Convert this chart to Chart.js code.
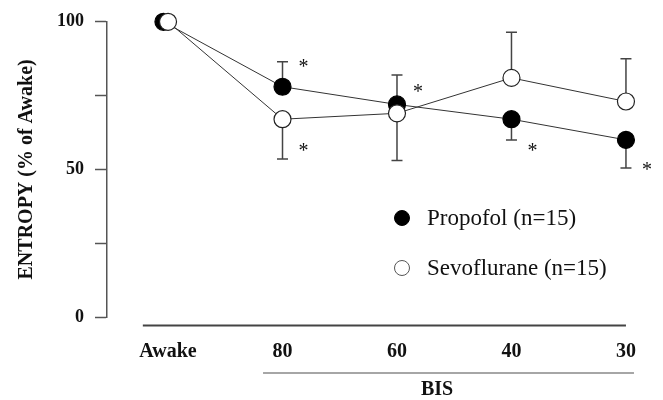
<!DOCTYPE html>
<html>
<head>
<meta charset="utf-8">
<script src="https://cdn.jsdelivr.net/npm/chart.js@4/dist/chart.umd.min.js"></script>
<style>
  html, body { margin: 0; padding: 0; background: #fff; }
  #wrap { width: 663px; height: 400px; position: relative; }
</style>
</head>
<body>
<div id="wrap"><canvas id="myChart"></canvas></div>
<script>
// categories along the x axis (BIS levels)
const categories = ['Awake', '80', '60', '40', '30'];

// mean entropy, % of awake
const propofol = [100, 78, 72, 67, 60];
const sevoflurane = [100, 67, 69, 81, 73];

// end of the one-sided SD bars (null = no bar)
const propofolBarEnd = [null, 86.5, 82, 60, 50.5];
const sevoBarEnd = [null, 53.5, 53, 96.5, 87.5];

// y ticks, only some labelled
const yTicks = [0, 25, 50, 75, 100];
const yTickLabels = ['0', '', '50', '', '100'];

// significance stars: category index and height
const starCat = [1, 1, 2, 3, 4];
const starVal = [86.5, 58, 78, 58, 51.5];

const legendLabels = ['Propofol (n=15)', 'Sevoflurane (n=15)'];
const axisTitleX = 'BIS';
const axisTitleY = 'ENTROPY (% of Awake)';

const SERIF = "'Liberation Serif', 'Times New Roman', serif";
Chart.defaults.font.family = SERIF;
Chart.defaults.color = '#111';

const AWAKE_DODGE = -0.04; // filled marker sits a bit left of the open one at Awake

function toPoints(vals, dodge) {
    return vals.map((v, i) => ({ x: i === 0 ? i + dodge : i, y: v }));
}

// extra drawing: error bars, stars, bottom rules, BIS title, legend
const extras = {
    id: 'extras',
    beforeDatasetsDraw(chart) {
        const ctx = chart.ctx;
        const xs = chart.scales.x, ys = chart.scales.y;
        ctx.save();
        ctx.strokeStyle = '#444';
        ctx.lineWidth = 1.5;
        const bars = [[propofol, propofolBarEnd], [sevoflurane, sevoBarEnd]];
        bars.forEach(([vals, ends]) => {
            ends.forEach((e, i) => {
                if (e === null) return;
                const x = xs.getPixelForValue(i);
                const y0 = ys.getPixelForValue(vals[i]);
                const y1 = ys.getPixelForValue(e);
                ctx.beginPath();
                ctx.moveTo(x, y0);
                ctx.lineTo(x, y1);
                ctx.moveTo(x - 5.5, y1);
                ctx.lineTo(x + 5.5, y1);
                ctx.stroke();
            });
        });
        ctx.restore();
    },
    afterDatasetsDraw(chart) {
        const ctx = chart.ctx;
        const xs = chart.scales.x, ys = chart.scales.y;
        const area = chart.chartArea;
        ctx.save();

        // stars
        ctx.fillStyle = '#111';
        ctx.font = '20px ' + SERIF;
        ctx.textAlign = 'center';
        ctx.textBaseline = 'alphabetic';
        starCat.forEach((c, i) => {
            const x = xs.getPixelForValue(c) + 21;
            const y = ys.getPixelForValue(starVal[i]);
            ctx.fillText('*', x, y + 11);
        });

        // rule under the plot
        ctx.strokeStyle = '#444';
        ctx.lineWidth = 1.8;
        ctx.beginPath();
        ctx.moveTo(xs.getPixelForValue(-0.22), area.bottom + 8.5);
        ctx.lineTo(xs.getPixelForValue(4), area.bottom + 8.5);
        ctx.stroke();

        // rule above BIS
        ctx.strokeStyle = '#888';
        ctx.lineWidth = 1.6;
        ctx.beginPath();
        ctx.moveTo(xs.getPixelForValue(0.83), 373);
        ctx.lineTo(xs.getPixelForValue(4.07), 373);
        ctx.stroke();

        ctx.fillStyle = '#111';
        ctx.font = 'bold 20px ' + SERIF;
        ctx.textBaseline = 'middle';
        ctx.fillText(axisTitleX, xs.getPixelForValue(2.35), 390);

        // legend
        const lx = 402, ly = [218, 268];
        ctx.font = '23px ' + SERIF;
        ctx.textAlign = 'left';
        legendLabels.forEach((t, i) => {
            ctx.beginPath();
            ctx.arc(lx, ly[i], 7.5, 0, Math.PI * 2);
            ctx.fillStyle = i === 0 ? '#000' : '#fff';
            ctx.fill();
            ctx.lineWidth = 1;
            ctx.strokeStyle = i === 0 ? '#000' : '#555';
            ctx.stroke();
            ctx.fillStyle = '#111';
            ctx.fillText(t, lx + 25, ly[i] + 1);
        });
        ctx.restore();
    }
};

const config = {
    type: 'line',
    data: {
        datasets: [
            {
                label: legendLabels[0],
                data: toPoints(propofol, AWAKE_DODGE),
                borderColor: '#333',
                borderWidth: 1,
                pointRadius: 8.5,
                pointBorderWidth: 1.2,
                pointBorderColor: '#000',
                pointBackgroundColor: '#000',
                clip: false,
                order: 1
            },
            {
                label: legendLabels[1],
                data: toPoints(sevoflurane, 0),
                borderColor: '#333',
                borderWidth: 1,
                pointRadius: 8.5,
                pointBorderWidth: 1.2,
                pointBorderColor: '#222',
                pointBackgroundColor: '#fff',
                clip: false,
                order: 0
            }
        ]
    },
    options: {
        responsive: true,
        maintainAspectRatio: false,
        animation: false,
        layout: { padding: { left: 0, right: 13, top: 18, bottom: 0 } },
        plugins: {
            legend: { display: false },
            tooltip: { enabled: false }
        },
        scales: {
            x: {
                type: 'linear',
                min: -0.533,
                max: 4.21,
                afterFit(s) { s.height = 83; },
                afterBuildTicks(s) { s.ticks = categories.map((c, i) => ({ value: i })); },
                grid: { display: false, drawTicks: false },
                border: { display: false },
                ticks: {
                    padding: 23,
                    autoSkip: false,
                    maxRotation: 0,
                    color: '#111',
                    font: { size: 20, weight: 'bold' },
                    callback: v => categories[v]
                }
            },
            y: {
                min: 0,
                max: 100,
                afterFit(s) { s.width = 107; },
                afterBuildTicks(s) { s.ticks = yTicks.map(v => ({ value: v })); },
                grid: {
                    drawOnChartArea: false,
                    tickLength: 12,
                    tickWidth: 1.5,
                    tickColor: '#555'
                },
                border: { color: '#555', width: 1.5 },
                ticks: {
                    padding: 11,
                    color: '#111',
                    font: { size: 18, weight: 'bold' },
                    callback: v => yTickLabels[yTicks.indexOf(v)]
                },
                title: {
                    display: true,
                    text: axisTitleY,
                    color: '#111',
                    font: { size: 20, weight: 'bold' },
                    padding: { top: 15, bottom: 0 }
                }
            }
        }
    },
    plugins: [extras]
};

const myChart = new Chart(document.getElementById('myChart'), config);
</script>
</body>
</html>
